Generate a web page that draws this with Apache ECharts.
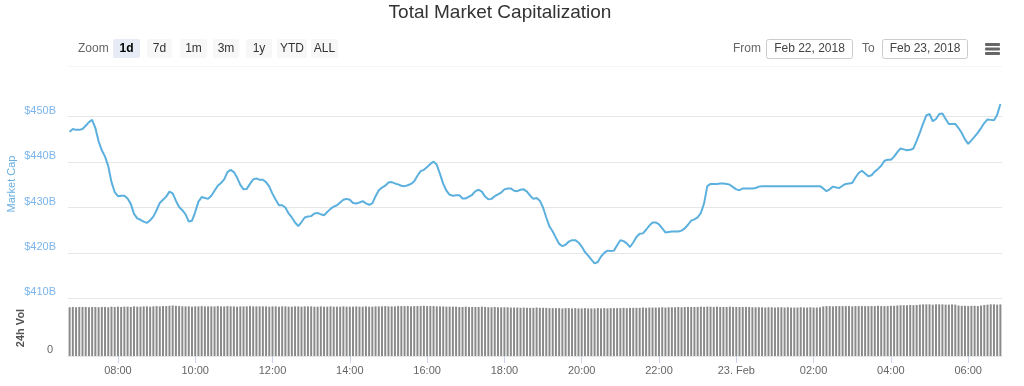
<!DOCTYPE html>
<html><head><meta charset="utf-8">
<script src="https://cdn.jsdelivr.net/npm/echarts@6/dist/echarts.min.js"></script>
<style>html,body{margin:0;padding:0;background:#fff}#c{width:1024px;height:386px}</style>
</head><body><div id="c"></div>
<script>
// ---- data (5-minute steps, Feb 22 2018 06:45 -> Feb 23 2018 06:50) ----
const startMinutes = 6 * 60 + 45;
const stepMinutes = 5;

const marketCap = [
  446.7, 447.3, 447.1, 447.1, 447.3, 448.0, 448.8, 449.3, 447.5, 444.6, 442.6, 441.2, 439.1, 435.6, 433.4,
  432.5, 432.6, 432.6, 432.0, 430.8, 428.6, 427.6, 427.3, 426.9, 426.6, 427.2, 428.0, 429.4, 431.0, 431.7,
  432.4, 433.5, 433.1, 431.5, 430.1, 429.4, 428.5, 426.9, 427.1, 429.0, 431.3, 432.3, 432.1, 431.9, 432.6,
  433.7, 434.8, 435.4, 436.2, 437.8, 438.3, 437.8, 436.6, 435.0, 434.0, 434.1, 435.2, 436.2, 436.4, 436.1,
  436.1, 435.6, 434.6, 433.0, 431.7, 430.5, 430.5, 430.0, 428.7, 427.8, 426.7, 425.9, 426.8, 427.8, 428.0,
  428.1, 428.7, 428.8, 428.5, 428.3, 429.0, 429.7, 430.2, 430.5, 431.1, 431.7, 431.9, 431.7, 431.0, 430.9,
  431.1, 431.4, 430.9, 430.6, 430.9, 432.5, 433.8, 434.4, 434.8, 435.5, 435.6, 435.3, 435.1, 434.8, 434.7,
  434.9, 435.2, 435.8, 437.0, 438.0, 438.3, 438.9, 439.6, 440.1, 439.4, 437.4, 435.2, 433.7, 432.8, 432.6,
  432.7, 432.7, 432.0, 432.0, 432.4, 432.8, 433.6, 433.9, 433.5, 432.4, 431.8, 431.9, 432.5, 432.9, 433.3,
  434.0, 434.2, 434.2, 433.7, 433.6, 433.9, 434.0, 433.5, 432.6, 431.9, 432.1, 431.5, 430.0, 427.8, 425.8,
  424.7, 423.3, 422.0, 421.5, 421.8, 422.5, 422.8, 422.8, 422.3, 421.4, 420.2, 419.4, 418.5, 417.7, 418.0,
  419.2, 420.0, 420.5, 420.4, 420.5, 421.7, 422.8, 422.6, 422.1, 421.3, 422.3, 423.5, 424.2, 424.3, 425.1,
  426.0, 426.7, 426.7, 426.3, 425.4, 424.5, 424.6, 424.7, 424.7, 424.7, 424.9, 425.4, 426.2, 427.1, 427.4,
  427.8, 428.8, 430.9, 434.7, 435.2, 435.2, 435.2, 435.3, 435.3, 435.2, 435.0, 434.5, 434.0, 433.8, 434.2,
  434.2, 434.2, 434.2, 434.3, 434.6, 434.7, 434.7, 434.7, 434.7, 434.7, 434.7, 434.7, 434.7, 434.7, 434.7,
  434.7, 434.7, 434.7, 434.7, 434.7, 434.7, 434.7, 434.7, 434.7, 434.2, 433.6, 434.0, 434.6, 434.4, 434.3,
  434.8, 435.2, 435.3, 435.4, 436.6, 437.6, 438.1, 437.5, 436.9, 437.1, 437.9, 438.5, 439.2, 440.3, 440.5,
  440.5, 441.2, 442.2, 443.0, 442.8, 442.6, 442.7, 443.0, 444.7, 446.5, 448.5, 450.3, 450.6, 449.0, 449.5,
  450.6, 450.7, 449.5, 448.4, 448.4, 448.4, 447.5, 446.4, 445.0, 444.0, 444.8, 445.6, 446.5, 447.5, 448.6,
  449.4, 449.3, 449.2, 450.4, 452.8
];

const volume24h = [
  16.9, 17.0, 16.9, 17.0, 17.0, 17.0, 16.9, 17.0, 17.0, 16.9, 17.0, 17.0, 16.9, 17.1, 17.0,
  17.1, 17.0, 17.1, 17.1, 17.0, 17.2, 17.1, 17.1, 17.2, 17.2, 17.1, 17.2, 17.3, 17.2, 17.3,
  17.3, 17.4, 17.5, 17.4, 17.3, 17.2, 17.2, 17.2, 17.1, 17.2, 17.2, 17.3, 17.2, 17.2, 17.2,
  17.2, 17.3, 17.2, 17.2, 17.3, 17.2, 17.2, 17.1, 17.2, 17.2, 17.2, 17.3, 17.2, 17.2, 17.2,
  17.2, 17.2, 17.1, 17.2, 17.2, 17.1, 17.2, 17.2, 17.1, 17.1, 17.2, 17.2, 17.1, 17.2, 17.2,
  17.2, 17.1, 17.1, 17.2, 17.1, 17.1, 17.2, 17.1, 17.1, 17.1, 17.2, 17.1, 17.1, 17.1, 17.2,
  17.1, 17.1, 17.2, 17.1, 17.1, 17.2, 17.2, 17.2, 17.3, 17.2, 17.2, 17.2, 17.3, 17.3, 17.3,
  17.3, 17.2, 17.3, 17.3, 17.3, 17.4, 17.3, 17.3, 17.3, 17.2, 17.2, 17.2, 17.1, 17.1, 17.1,
  17.1, 17.0, 17.0, 17.1, 17.0, 17.0, 17.0, 17.0, 17.1, 17.0, 16.9, 16.9, 17.0, 16.9, 16.9,
  16.9, 16.9, 16.8, 16.8, 16.8, 16.7, 16.8, 16.7, 16.7, 16.7, 16.8, 16.7, 16.7, 16.7, 16.6,
  16.6, 16.6, 16.6, 16.5, 16.6, 16.6, 16.5, 16.6, 16.5, 16.5, 16.6, 16.5, 16.5, 16.5, 16.6,
  16.5, 16.6, 16.5, 16.6, 16.6, 16.6, 16.6, 16.7, 16.6, 16.7, 16.7, 16.7, 16.7, 16.8, 16.7,
  16.8, 16.8, 16.8, 16.8, 16.9, 16.8, 16.9, 16.9, 16.9, 17.0, 16.9, 17.0, 17.0, 17.0, 17.0,
  17.0, 17.1, 17.0, 17.1, 17.1, 17.0, 17.1, 17.0, 17.0, 17.0, 17.1, 17.0, 17.0, 17.0, 17.0,
  17.0, 17.0, 16.9, 16.9, 16.9, 16.9, 16.8, 16.9, 16.9, 16.8, 16.9, 16.9, 16.8, 16.9, 16.8,
  16.8, 16.8, 16.9, 16.8, 16.8, 16.9, 16.8, 16.8, 16.9, 17.2, 17.3, 17.3, 17.2, 17.3, 17.3,
  17.3, 17.3, 17.3, 17.2, 17.3, 17.3, 17.3, 17.3, 17.3, 17.3, 17.3, 17.4, 17.3, 17.3, 17.3,
  17.4, 17.4, 17.5, 17.6, 17.6, 17.6, 17.7, 17.6, 17.7, 17.8, 17.9, 17.9, 17.9, 17.8, 17.9,
  17.9, 17.9, 17.8, 17.8, 17.9, 17.8, 17.5, 17.4, 17.4, 17.3, 17.4, 17.4, 17.3, 17.5, 17.7,
  17.8, 17.9, 17.9, 17.8, 17.9
];

const xTickLabels = ['08:00','10:00','12:00','14:00','16:00','18:00','20:00','22:00','00:00','02:00','04:00','06:00'];
const dayLabels = { '00:00': '23. Feb' };
const capTicks = { min: 410, max: 450, step: 10 };
const volTicks = { min: 0, max: 20, step: 20 };

function pad(n) { return (n < 10 ? '0' : '') + n; }
const categories = marketCap.map(function (_, i) {
  const t = startMinutes + i * stepMinutes;
  return pad(Math.floor(t / 60) % 24) + ':' + pad(t % 60);
});

// ---- chart ----
const FONT = '"Liberation Sans", Arial, sans-serif';
const chart = echarts.init(document.getElementById('c'), null, { renderer: 'canvas' });

function txt(x, y, text, o) {
  const st = Object.assign({
    text: text, x: 0, y: 0, fill: '#666', font: '12px ' + FONT,
    textAlign: 'left', align: 'left', textVerticalAlign: 'middle', verticalAlign: 'middle'
  }, o || {});
  if (st.textAlign) st.align = st.textAlign;
  return { type: 'text', x: x, y: y, silent: true, rotation: st.rot || 0, style: st, z: 10 };
}
function rect(x, y, w, h, fill, stroke) {
  return { type: 'rect', silent: true, z: 5, shape: { x: x, y: y, width: w, height: h, r: 2 },
    style: { fill: fill, stroke: stroke || null, lineWidth: 1 } };
}

const buttons = [
  { t: '1d', x: 113, w: 27, sel: true },
  { t: '7d', x: 147, w: 25 },
  { t: '1m', x: 180, w: 27 },
  { t: '3m', x: 213, w: 26 },
  { t: '1y', x: 246, w: 26 },
  { t: 'YTD', x: 277, w: 30 },
  { t: 'ALL', x: 311, w: 27 }
];
const graphics = [
  txt(500, 12.5, 'Total Market Capitalization', { font: '19px ' + FONT, fill: '#333333', textAlign: 'center' }),
  txt(78, 48.5, 'Zoom', { fill: '#666666' })
];
buttons.forEach(function (b) {
  graphics.push(rect(b.x, 39, b.w, 19, b.sel ? '#e6ebf5' : '#f7f7f7'));
  graphics.push(txt(b.x + b.w / 2, 48.5, b.t, {
    textAlign: 'center', fill: b.sel ? '#000000' : '#333333',
    font: (b.sel ? 'bold ' : '') + '12px ' + FONT
  }));
});
graphics.push(txt(733, 48.5, 'From', { fill: '#666666' }));
graphics.push(rect(766.5, 39.5, 86, 19, '#ffffff', '#cccccc'));
graphics.push(txt(809.5, 48.5, 'Feb 22, 2018', { textAlign: 'center', fill: '#444444' }));
graphics.push(txt(862, 48.5, 'To', { fill: '#666666' }));
graphics.push(rect(882.5, 39.5, 85, 19, '#ffffff', '#cccccc'));
graphics.push(txt(925, 48.5, 'Feb 23, 2018', { textAlign: 'center', fill: '#444444' }));
[43, 47.5, 52].forEach(function (y) {
  graphics.push({ type: 'rect', silent: true, z: 5, shape: { x: 985, y: y, width: 15, height: 3, r: 1 }, style: { fill: '#666666' } });
});
graphics.push({ type: 'line', silent: true, shape: { x1: 68, y1: 66.5, x2: 1002, y2: 66.5 }, style: { stroke: '#f6f6f6', lineWidth: 1 } });
graphics.push(txt(12, 184, 'Market Cap', { textAlign: 'center', fill: '#6aaee0', font: '11px ' + FONT, rot: Math.PI / 2 }));
graphics.push(txt(21, 328, '24h Vol', { textAlign: 'center', fill: '#555555', font: 'bold 11px ' + FONT, rot: Math.PI / 2 }));

const showTick = function (idx, val) { return xTickLabels.indexOf(val) >= 0; };

const option = {
  animation: false,
  backgroundColor: '#ffffff',
  textStyle: { fontFamily: FONT },
  graphic: graphics,
  grid: [
    { left: 68, right: 22, top: 116.7, height: 181.6 },
    { left: 68, right: 22, top: 298.3, height: 57.7 }
  ],
  xAxis: [
    { type: 'category', gridIndex: 0, data: categories, boundaryGap: true, show: false },
    { type: 'category', gridIndex: 1, data: categories, boundaryGap: true,
      axisLine: { show: true, lineStyle: { color: '#e6e6e6', width: 1 } },
      axisTick: { show: true, interval: showTick, alignWithLabel: true, length: 7, lineStyle: { color: '#ccd6eb' } },
      axisLabel: { interval: showTick, margin: 9, color: '#666666', fontSize: 11, fontFamily: FONT,
        formatter: function (v) { return dayLabels[v] || v; } },
      splitLine: { show: false }
    }
  ],
  yAxis: [
    { type: 'value', gridIndex: 0, min: capTicks.min, max: capTicks.max, interval: capTicks.step,
      axisLine: { show: false }, axisTick: { show: false },
      splitLine: { show: true, lineStyle: { color: '#e6e6e6', width: 1 } },
      axisLabel: { margin: 12, color: '#7cb5ec', fontSize: 11, fontFamily: FONT, verticalAlign: 'bottom', lineHeight: 12,
        formatter: function (v) { return '$' + v + 'B'; } }
    },
    { type: 'value', gridIndex: 1, min: volTicks.min, max: volTicks.max, interval: volTicks.step,
      axisLine: { show: false }, axisTick: { show: false }, splitLine: { show: false },
      axisLabel: { margin: 15, color: '#666666', fontSize: 11, fontFamily: FONT, verticalAlign: 'bottom', lineHeight: 12,
        showMaxLabel: false }
    }
  ],
  series: [
    { name: 'Market Cap', type: 'line', xAxisIndex: 0, yAxisIndex: 0, data: marketCap,
      showSymbol: false, symbol: 'none', clip: false, smooth: false,
      lineStyle: { color: '#5cb0de', width: 2 }, z: 3 },
    { name: '24h Vol', type: 'bar', xAxisIndex: 1, yAxisIndex: 1, data: volume24h,
      barWidth: 2, itemStyle: { color: '#8a8a8a' }, z: 2 }
  ]
};
chart.setOption(option);
</script>
</body></html>
